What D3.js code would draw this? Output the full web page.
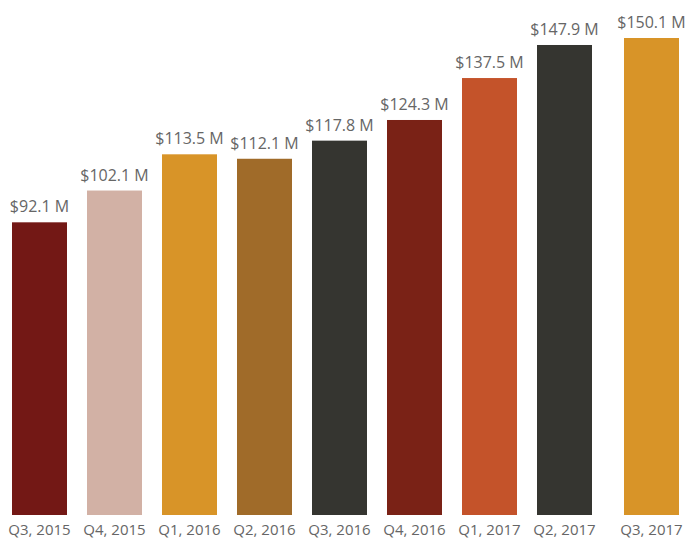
<!DOCTYPE html>
<html>
<head>
<meta charset="utf-8">
<script src="https://cdn.jsdelivr.net/npm/d3@7"></script>
<style>
  html, body { margin: 0; padding: 0; background: #fff; }
  svg { display: block; font-family: "Open Sans", sans-serif; }
</style>
</head>
<body>
<svg id="chart" width="686" height="538"></svg>
<script>
// Quarterly revenue, in millions of dollars
const quarters = ["Q3, 2015", "Q4, 2015", "Q1, 2016", "Q2, 2016", "Q3, 2016",
                  "Q4, 2016", "Q1, 2017", "Q2, 2017", "Q3, 2017"];
const revenue = [92.1, 102.1, 113.5, 112.1, 117.8, 124.3, 137.5, 147.9, 150.1];
const barColors = ["#731815", "#D2B1A5", "#D89428", "#A06B29", "#353530",
                   "#7A2216", "#C4532A", "#353530", "#D89428"];

const svg = d3.select("#chart");
const baseY = 515;
const topY = 38;
const latestGap = 12; // the most recent quarter sits a little apart

const x = d3.scaleBand()
  .domain(quarters)
  .range([12, 667])
  .paddingInner(20 / 75)
  .paddingOuter(0);

const y = d3.scaleLinear()
  .domain([0, d3.max(revenue)])
  .range([baseY, topY]);

const data = quarters.map((q, i) => ({ q, v: revenue[i], c: barColors[i], i }));
const xPos = d => x(d.q) + (d.i === quarters.length - 1 ? latestGap : 0);

svg.append("g")
  .selectAll("rect")
  .data(data)
  .join("rect")
  .attr("x", xPos)
  .attr("y", d => y(d.v))
  .attr("width", x.bandwidth())
  .attr("height", d => baseY - y(d.v))
  .attr("fill", d => d.c);

svg.append("g")
  .selectAll("text")
  .data(data)
  .join("text")
  .attr("x", d => xPos(d) + x.bandwidth() / 2)
  .attr("y", d => y(d.v) - 10)
  .attr("text-anchor", "middle")
  .attr("font-size", 16)
  .attr("fill", "#666")
  .text(d => "$" + d3.format(".1f")(d.v) + " M");

svg.append("g")
  .selectAll("text")
  .data(data)
  .join("text")
  .attr("x", d => xPos(d) + x.bandwidth() / 2)
  .attr("y", 535)
  .attr("text-anchor", "middle")
  .attr("font-size", 15)
  .attr("fill", "#666")
  .text(d => d.q);
</script>
</body>
</html>
